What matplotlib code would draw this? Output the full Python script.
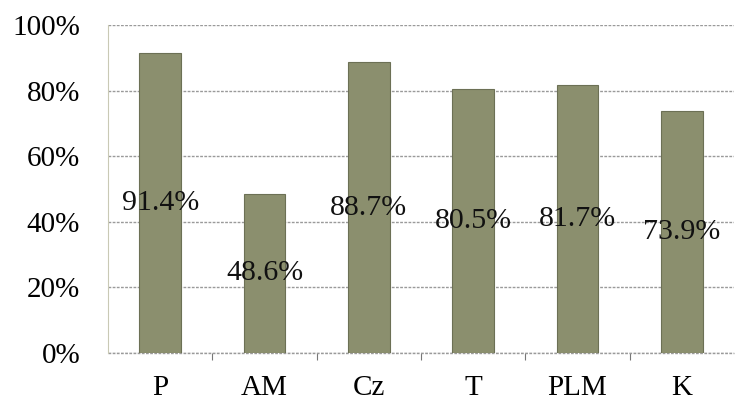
import numpy as np
import matplotlib.pyplot as plt
from matplotlib.ticker import FuncFormatter

plt.rcParams['font.family'] = ['Liberation Serif', 'DejaVu Serif']

categories = ['P', 'AM', 'Cz', 'T', 'PLM', 'K']
values = [91.4, 48.6, 88.7, 80.5, 81.7, 73.9]
y_ticks = [0, 20, 40, 60, 80, 100]

bar_color = '#8b8f6e'
edge_color = '#6c7055'
grid_color = '#9a9a9a'


def main():
    fig = plt.figure(figsize=(7.4, 4.05), dpi=100)
    ax = fig.add_axes([108 / 740, 52 / 405, (734 - 108) / 740, 328 / 405])

    x = np.arange(len(categories))
    bars = ax.bar(x, values, width=0.4, color=bar_color, edgecolor=edge_color,
                  linewidth=0.8, zorder=3)
    ax.bar_label(bars, labels=['%.1f%%' % v for v in values], label_type='center',
                 fontsize=21.5, color='#111111', zorder=4)

    ax.set_xlim(-0.5, len(categories) - 0.5)
    ax.set_ylim(0, 100)
    ax.set_yticks(y_ticks)
    ax.yaxis.set_major_formatter(FuncFormatter(lambda v, p: '%d%%' % v))
    ax.set_xticks(x)
    ax.set_xticklabels(categories)
    ax.set_xticks(x[:-1] + 0.5, minor=True)

    ax.tick_params(axis='y', length=0, pad=20, labelsize=21)
    ax.tick_params(axis='x', which='major', length=0, pad=16, labelsize=21)
    ax.tick_params(axis='x', which='minor', length=5, width=0.8, color='#777777', direction='out')

    ax.yaxis.grid(True, color=grid_color, linestyle=(0, (2, 1)), linewidth=1.0, zorder=0)
    # baseline at 0% drawn like the gridlines
    ax.axhline(0, color=grid_color, linestyle=(0, (2, 1)), linewidth=1.0, zorder=2, clip_on=False)
    ax.set_axisbelow(True)
    for side in ['top', 'right', 'bottom']:
        ax.spines[side].set_visible(False)
    ax.spines['left'].set_color('#c9c9b5')
    ax.spines['left'].set_linewidth(0.8)

    fig.savefig('out.png', dpi=100)
    plt.close(fig)


if __name__ == '__main__':
    main()
